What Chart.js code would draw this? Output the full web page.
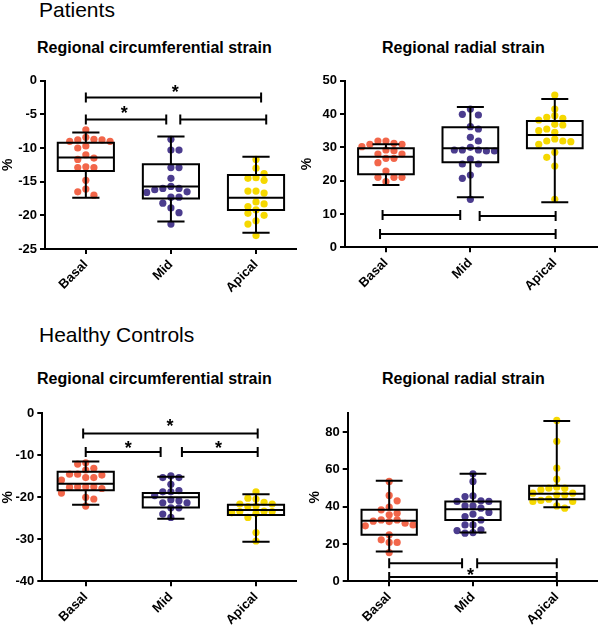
<!DOCTYPE html>
<html>
<head>
<meta charset="utf-8">
<script src="https://cdn.jsdelivr.net/npm/chart.js@4.4.0/dist/chart.umd.min.js"></script>
<style>
  html, body { margin: 0; padding: 0; background: #fff; }
  body { width: 601px; height: 628px; position: relative; overflow: hidden;
         font-family: "Liberation Sans", Arial, sans-serif; color: #000; }
  .group { position: absolute; font-size: 21px; line-height: 21px; white-space: nowrap; }
  .title { position: absolute; font-size: 16px; line-height: 16px; font-weight: bold; white-space: nowrap; }
  canvas { position: absolute; }
</style>
</head>
<body>
<div class="group" style="left:39px;top:-1px">Patients</div>
<div class="title" style="left:37px;top:40px">Regional circumferential strain</div>
<div class="title" style="left:382px;top:40px">Regional radial strain</div>
<canvas id="patCirc" width="300" height="255" style="left:0px;top:60px"></canvas>
<canvas id="patRad" width="302" height="255" style="left:299px;top:60px"></canvas>

<div class="group" style="left:39px;top:324px">Healthy Controls</div>
<div class="title" style="left:37px;top:371px">Regional circumferential strain</div>
<div class="title" style="left:382px;top:371px">Regional radial strain</div>
<canvas id="ctlCirc" width="300" height="238" style="left:0px;top:390px"></canvas>
<canvas id="ctlRad" width="294" height="238" style="left:307px;top:390px"></canvas>

<script>
const categories = ["Basal", "Mid", "Apical"];
const groupColors = ["#F2664A", "#4B3C8E", "#F5D800"];

// ---- Patients, circumferential strain (%) ----
const patCircBasal = [-7.3, -8.4, -8.7, -8.8, -8.8, -9.0, -9.0, -9.7, -10.0, -11.0, -11.5, -11.7,
                      -12.8, -12.9, -12.9, -14.8, -16.1, -16.5, -17.0];
const patCircMid = [-8.7, -10.3, -10.3, -12.9, -12.9, -14.5, -15.7, -16.0, -16.0, -16.2, -16.5, -16.6,
                    -17.3, -17.3, -18.2, -18.9, -19.6, -21.3];
const patCircApical = [-11.7, -13.0, -13.8, -14.4, -14.5, -14.8, -16.4, -16.4, -16.7, -18.0, -18.3,
                       -18.7, -19.2, -19.7, -20.0, -20.8, -21.3, -23.0];
// min, Q1, median, Q3, max
const patCircBoxes = [[-17.4, -13.4, -11.4, -9.2, -7.7],
                      [-20.9, -17.5, -15.7, -12.4, -8.3],
                      [-22.6, -19.2, -17.4, -14.0, -11.3]];
const patCircTicks = [0, -5, -10, -15, -20, -25];
// from, to, level
const patCircBrackets = [[0, 2.06, -2.5], [0, 0.945, -5.75], [1.11, 2.12, -5.75]];
const patCircStars = [[1.05, -1.1], [0.45, -4.3]];

// ---- Patients, radial strain (%) ----
const patRadBasal = [31.9, 31.9, 31.2, 30.9, 30.9, 30.2, 29.2, 29.0, 28.0, 28.0, 26.7, 26.7, 25.4,
                     22.9, 21.0, 21.0, 21.0, 19.7];
const patRadMid = [41.5, 39.9, 39.7, 36.2, 35.5, 33.0, 31.9, 30.0, 29.2, 29.2, 29.2, 28.9, 28.9,
                   26.5, 25.0, 25.0, 21.7, 20.7, 14.4];
const patRadApical = [45.7, 41.5, 39.5, 39.0, 38.7, 38.2, 36.9, 36.7, 35.5, 35.0, 34.5, 32.5, 31.9,
                      31.9, 31.7, 30.9, 28.5, 27.0, 24.4, 14.4];
const patRadBoxes = [[18.7, 21.9, 27.2, 29.7, 30.9],
                     [15.0, 25.5, 29.7, 36.0, 42.1],
                     [13.5, 29.7, 33.7, 37.9, 44.5]];
const patRadTicks = [0, 10, 20, 30, 40, 50];
const patRadBrackets = [[-0.04, 0.88, 9.7], [1.11, 2.01, 9.4], [-0.07, 2.01, 4.0]];
const patRadStars = [];

// ---- Healthy controls, circumferential strain (%) ----
const ctlCircBasal = [-11.8, -12.1, -13.1, -13.5, -14.5, -14.5, -14.7, -15.3, -15.3, -15.9, -17.5,
                      -17.5, -17.5, -17.6, -17.9, -19.0, -20.0, -20.4, -22.1];
const ctlCircMid = [-14.9, -15.3, -15.3, -16.9, -18.4, -18.7, -18.7, -19.6, -20.6, -20.8, -21.3,
                    -21.3, -22.5, -22.5, -24.0, -24.8];
const ctlCircApical = [-18.7, -20.2, -20.4, -21.2, -21.6, -21.6, -22.1, -22.2, -23.3, -23.4, -23.4,
                       -23.7, -23.8, -24.8, -28.4, -30.4];
const ctlCircBoxes = [[-21.8, -18.3, -16.8, -13.9, -11.5],
                      [-25.1, -22.4, -20.0, -19.0, -15.1],
                      [-30.6, -24.2, -23.0, -21.8, -19.3]];
const ctlCircTicks = [0, -10, -20, -30, -40];
const ctlCircBrackets = [[-0.03, 2.02, -4.8], [0, 0.88, -9.2], [1.13, 2.02, -9.2]];
const ctlCircStars = [[0.99, -2.2], [0.5, -7.5], [1.56, -7.5]];

// ---- Healthy controls, radial strain (%) ----
const ctlRadBasal = [53.5, 46.0, 43.1, 39.7, 38.3, 36.5, 35.6, 32.9, 32.9, 32.2, 32.0, 31.1, 30.2,
                     29.7, 24.9, 22.2, 20.8, 20.8, 15.4];
const ctlRadMid = [57.6, 53.5, 45.8, 45.4, 43.1, 42.8, 42.8, 40.4, 40.4, 39.2, 36.9, 36.0, 34.7,
                   32.9, 30.2, 30.2, 27.5, 27.2, 26.1, 25.8];
const ctlRadApical = [86.2, 75.0, 60.6, 54.7, 50.4, 49.9, 49.9, 49.0, 47.2, 47.2, 46.3, 46.3, 44.0,
                      43.3, 42.8, 42.8, 40.4, 39.2];
const ctlRadBoxes = [[15.9, 24.9, 32.4, 38.3, 53.8],
                     [26.1, 32.9, 38.6, 42.8, 57.6],
                     [39.7, 44.0, 46.9, 51.2, 85.9]];
const ctlRadTicks = [0, 20, 40, 60, 80];
const ctlRadBrackets = [[0, 0.87, 9.7], [1.05, 2.0, 9.7], [0, 2.0, 2.3]];
const ctlRadStars = [[0.97, 5.2]];

const FONT = "'Liberation Sans', Arial, sans-serif";
const BOX_HALF = 0.33;
const CAP_HALF = 0.16;
const SWARM_STEP = 0.095;

// simple column beeswarm so dots of one group do not sit on top of each other
function swarm(values, center, minGap) {
    const placed = [];
    return values.slice().sort((a, b) => b - a).map((v, n) => {
        const free = c => !placed.some(p => p.c === c && Math.abs(p.v - v) < minGap);
        let col = null;
        for (let k = 0; col === null; k++) {
            if (k === 0) { if (free(0)) col = 0; continue; }
            const near = placed.filter(p => Math.abs(p.v - v) < minGap * 1.5);
            const left = near.filter(p => p.c < 0).length;
            const right = near.filter(p => p.c > 0).length;
            const order = left < right || (left === right && n % 2) ? [-k, k] : [k, -k];
            for (const c of order) if (col === null && free(c)) col = c;
        }
        placed.push({ c: col, v });
        return { x: center + col * SWARM_STEP, y: v };
    });
}

function boxPlugin(boxes, brackets, stars) {
    return {
        id: "boxWhisker",
        afterDatasetsDraw(chart) {
            const { ctx, scales: { x, y } } = chart;
            const px = v => x.getPixelForValue(v);
            const py = v => y.getPixelForValue(v);
            ctx.save();
            ctx.strokeStyle = "#000";
            ctx.lineWidth = 2;
            ctx.beginPath();
            boxes.forEach(([lo, q1, med, q3, hi], i) => {
                const xl = px(i - BOX_HALF), xr = px(i + BOX_HALF), xc = px(i);
                const cl = px(i - CAP_HALF), cr = px(i + CAP_HALF);
                ctx.rect(xl, py(q3), xr - xl, py(q1) - py(q3));
                ctx.moveTo(xl, py(med)); ctx.lineTo(xr, py(med));
                ctx.moveTo(xc, py(q3)); ctx.lineTo(xc, py(hi));
                ctx.moveTo(cl, py(hi)); ctx.lineTo(cr, py(hi));
                ctx.moveTo(xc, py(q1)); ctx.lineTo(xc, py(lo));
                ctx.moveTo(cl, py(lo)); ctx.lineTo(cr, py(lo));
            });
            brackets.forEach(([from, to, level]) => {
                const x1 = px(from), x2 = px(to), yy = py(level);
                ctx.moveTo(x1, yy); ctx.lineTo(x2, yy);
                ctx.moveTo(x1, yy - 5); ctx.lineTo(x1, yy + 5);
                ctx.moveTo(x2, yy - 5); ctx.lineTo(x2, yy + 5);
            });
            ctx.stroke();

            ctx.fillStyle = "#000";
            ctx.font = "bold 18px " + FONT;
            ctx.textAlign = "center";
            ctx.textBaseline = "alphabetic";
            const m = ctx.measureText("*");
            const shift = (m.actualBoundingBoxAscent - m.actualBoundingBoxDescent) / 2;
            stars.forEach(([sx, sy]) => ctx.fillText("*", px(sx), py(sy) + shift));
            ctx.restore();
        }
    };
}

function makePanel(cfg) {
    const gap = 0.04 * (cfg.yMax - cfg.yMin);
    const datasets = cfg.groups.map((vals, i) => ({
        data: swarm(vals, i, gap),
        backgroundColor: groupColors[i],
        pointRadius: 3.6,
        pointBorderWidth: 0,
        clip: false
    }));
    const tickFont = { family: FONT, size: 13, weight: "bold" };
    return new Chart(document.getElementById(cfg.id), {
        type: "scatter",
        data: { datasets },
        options: {
            responsive: false,
            animation: false,
            events: [],
            layout: { padding: { top: cfg.top, right: cfg.right, left: 0, bottom: 0 } },
            plugins: { legend: { display: false }, tooltip: { enabled: false } },
            scales: {
                x: {
                    type: "linear",
                    min: cfg.xMin,
                    max: cfg.xMax,
                    afterBuildTicks: s => { s.ticks = categories.map((c, i) => ({ value: i })); },
                    afterFit: s => { s.height = cfg.xHeight; s.paddingLeft = 0; s.paddingRight = 0; },
                    ticks: {
                        callback: v => categories[v],
                        autoSkip: false,
                        minRotation: 45,
                        maxRotation: 45,
                        padding: 3,
                        color: "#000",
                        font: tickFont
                    },
                    grid: { drawOnChartArea: false, drawTicks: true, tickLength: 5, color: "#000", lineWidth: 2 },
                    border: { display: true, color: "#000", width: 2 }
                },
                y: {
                    min: cfg.yMin,
                    max: cfg.yMax,
                    afterBuildTicks: s => { s.ticks = cfg.yTicks.map(v => ({ value: v })); },
                    afterFit: s => { s.width = cfg.yWidth; s.paddingTop = 0; s.paddingBottom = 0; },
                    ticks: { callback: v => String(v), padding: 3, color: "#000", font: tickFont },
                    grid: { drawOnChartArea: false, drawTicks: true, tickLength: 5, color: "#000", lineWidth: 2 },
                    border: { display: true, color: "#000", width: 2 },
                    title: {
                        display: true,
                        text: "%",
                        color: "#000",
                        padding: { top: 0, bottom: 0 },
                        font: { family: FONT, size: 14, weight: "bold" }
                    }
                }
            }
        },
        plugins: [boxPlugin(cfg.boxes, cfg.brackets, cfg.stars)]
    });
}

makePanel({
    id: "patCirc", groups: [patCircBasal, patCircMid, patCircApical], boxes: patCircBoxes,
    yMin: -25, yMax: 0, yTicks: patCircTicks, xMin: -0.48, xMax: 2.47,
    brackets: patCircBrackets, stars: patCircStars,
    top: 20.7, right: 3, yWidth: 45, xHeight: 66
});
makePanel({
    id: "patRad", groups: [patRadBasal, patRadMid, patRadApical], boxes: patRadBoxes,
    yMin: 0, yMax: 50, yTicks: patRadTicks, xMin: -0.485, xMax: 2.5,
    brackets: patRadBrackets, stars: patRadStars,
    top: 20.7, right: 4, yWidth: 46, xHeight: 67.7
});
makePanel({
    id: "ctlCirc", groups: [ctlCircBasal, ctlCircMid, ctlCircApical], boxes: ctlCircBoxes,
    yMin: -40, yMax: 0, yTicks: ctlCircTicks, xMin: -0.51, xMax: 2.47,
    brackets: ctlCircBrackets, stars: ctlCircStars,
    top: 23.3, right: 3, yWidth: 42.3, xHeight: 46.7
});
makePanel({
    id: "ctlRad", groups: [ctlRadBasal, ctlRadMid, ctlRadApical], boxes: ctlRadBoxes,
    yMin: 0, yMax: 90, yTicks: ctlRadTicks, xMin: -0.495, xMax: 2.48,
    brackets: ctlRadBrackets, stars: ctlRadStars,
    top: 23.3, right: 3, yWidth: 40.7, xHeight: 46.7
});
</script>
</body>
</html>
